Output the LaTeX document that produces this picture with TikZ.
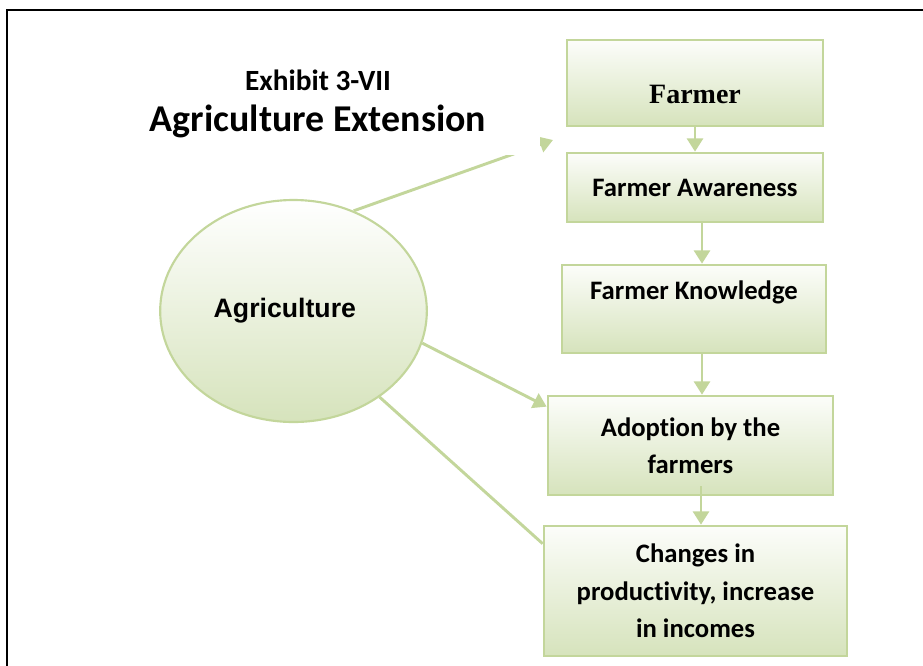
\documentclass[tikz,border=0pt]{standalone}
\usepackage{fontspec}
\setmainfont[Ligatures=NoCommon]{Carlito}
\newfontfamily\arialfont{Liberation Sans}
\newfontfamily\cambriafont{Liberation Serif}
\usetikzlibrary{calc,shapes.geometric,arrows.meta}

\definecolor{leafline}{RGB}{195,214,155}
\definecolor{leaffill}{RGB}{214,227,188}
\definecolor{leaftop}{RGB}{252,253,250}

\tikzset{
	stepbox/.style={draw=leafline, line width=2pt, top color=leaftop, bottom color=leaffill,
		align=center, font=\fontsize{20}{28}\selectfont\bfseries, inner sep=0pt},
	flow/.style={draw=leafline, line width=2.2pt, -{Triangle[width=12pt,length=10pt]}},
}

\begin{document}
\begin{tikzpicture}[x=0.75pt,y=-0.75pt]
	\clip (0,0) rectangle (923,665);
	\draw [line width=1.6pt] (7,10) rectangle (940,690);

	% the flow on the right
	\node [stepbox, minimum width=192pt, minimum height=64.5pt, text height=30pt, text depth=0pt,
		font=\fontsize{21}{24}\cambriafont\bfseries] (farmer) at (695,83) {Farmer};
	\node [stepbox, minimum width=192pt, minimum height=51.75pt] (aware) at (695,187.5) {Farmer Awareness};
	\node [stepbox, minimum width=198pt, minimum height=66pt, text height=14pt, text depth=28.2pt]
		(know) at (694,309) {Farmer Knowledge};
	\node [stepbox, minimum width=213.75pt, minimum height=74.25pt] (adopt) at (690.5,445.5)
		{Adoption by the\\farmers};
	\node [stepbox, minimum width=227.25pt, minimum height=97.5pt] (change) at (695.5,591)
		{Changes in\\productivity, increase\\in incomes};

	\draw [flow] (farmer) to (aware);
	\draw [flow] (aware.south -| 702,0) to (know.north -| 702,0);
	\draw [flow] (know.south -| 702,0) to (adopt.north -| 702,0);
	\draw [flow] (701,486) to (change.north -| 701,0);

	% the ellipse and its links
	\node [draw=leafline, line width=1.6pt, ellipse, top color=white, bottom color=leaffill,
		minimum width=200pt, minimum height=166.5pt, font=\fontsize{20}{22}\arialfont\bfseries]
		(agri) at (293.5,311) {Agriculture\kern13pt};

	\coordinate (ext) at (553,140);
	\coordinate (toadopt) at ($(adopt.north west)+(0,12)$);
	\coordinate (tochange) at ($(change.north west)+(0,19)$);

	\draw [flow] (agri.59) to (ext);
	\draw [flow] (agri.-14) to (toadopt);
	\draw [draw=leafline, line width=2.2pt] (agri.-45) to (tochange);

	\node [fill=white, minimum width=333pt, minimum height=76.5pt, align=center,
		font=\fontsize{22}{30.75}\selectfont\bfseries] (title) at (318,104)
		{Exhibit 3-VII\\{\fontsize{28.4}{30.75}\selectfont Agriculture Extension}};
\end{tikzpicture}
\end{document}
